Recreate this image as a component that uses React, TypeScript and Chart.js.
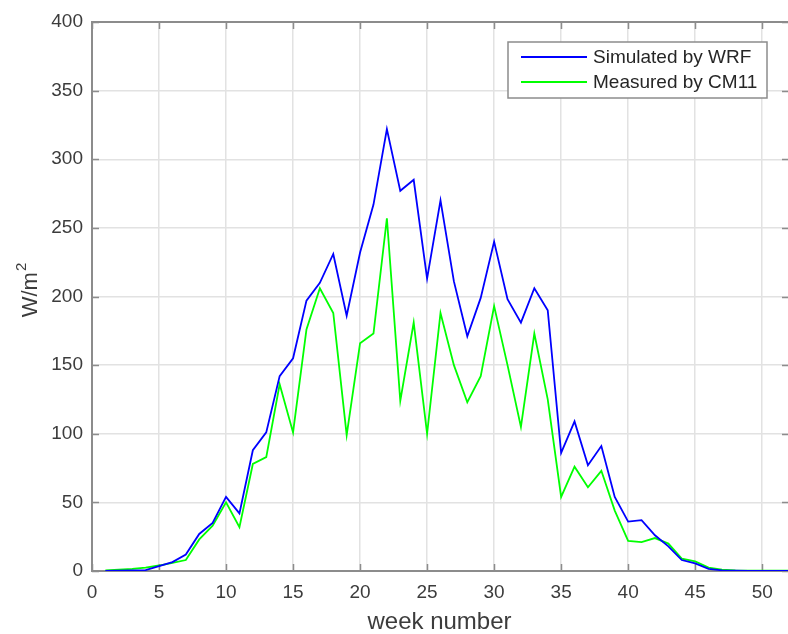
import React, { useEffect, useRef } from "react";
import { Chart, registerables } from "chart.js";

Chart.register(...registerables);

// Week numbers 1..52
const weeks = [
  1, 2, 3, 4, 5, 6, 7, 8, 9, 10, 11, 12, 13, 14, 15, 16, 17, 18, 19, 20, 21, 22, 23, 24, 25, 26,
  27, 28, 29, 30, 31, 32, 33, 34, 35, 36, 37, 38, 39, 40, 41, 42, 43, 44, 45, 46, 47, 48, 49, 50, 51, 52,
];

// Weekly mean irradiance, W/m^2
const simulatedWRF = [
  0, 0.3, 0.5, 0.7, 3.6, 6.5, 12, 27, 35, 54, 42, 88, 101, 142, 155, 197, 210, 231, 186, 232, 267, 322,
  277, 285, 213, 270, 211, 171, 199, 240, 198, 181, 206, 190, 86, 109, 77, 91, 54, 36, 37, 26, 18, 8,
  5.5, 1.5, 0.5, 0.2, 0, 0, 0, 0,
];

const measuredCM11 = [
  0.5, 1, 1.5, 2.5, 4, 6, 8, 23, 33, 50, 32, 78, 83, 136, 101, 176, 206, 188, 99, 166, 173, 257, 124,
  181, 100, 188, 150, 123, 142, 193, 150, 105, 173, 125, 54, 76, 61, 73, 44, 22, 21, 24, 20, 9, 7, 2.5,
  1, 0.5, 0.3, 0.2, 0.2, 0.2,
];

const seriesLabels = ["Simulated by WRF", "Measured by CM11"];
const seriesColors = ["#0000ff", "#00ff00"];

const xTitle = "week number";
const FONT = "'Liberation Sans', Arial, Helvetica, sans-serif";
const AXIS_COLOR = "#8c8c8c";
const TEXT_COLOR = "#3c3c3c";

const framePlugin = {
  id: "matlabFrame",
  beforeDraw(chart: any) {
    const { ctx, width, height } = chart;
    ctx.save();
    ctx.fillStyle = "#ffffff";
    ctx.fillRect(0, 0, width, height);
    ctx.restore();
  },
  beforeDatasetsDraw(chart: any) {
    const { ctx, chartArea: a, scales } = chart;
    const x = scales.x;
    const y = scales.y;
    ctx.save();
    ctx.strokeStyle = AXIS_COLOR;
    ctx.lineWidth = 2;
    ctx.strokeRect(a.left, a.top, a.right - a.left, a.bottom - a.top);
    // inward tick marks on all four sides
    const len = 7;
    ctx.beginPath();
    x.ticks.forEach((t: any) => {
      const px = Math.round(x.getPixelForValue(t.value)) + 0.5;
      ctx.moveTo(px, a.bottom);
      ctx.lineTo(px, a.bottom - len);
      ctx.moveTo(px, a.top);
      ctx.lineTo(px, a.top + len);
    });
    y.ticks.forEach((t: any) => {
      const py = Math.round(y.getPixelForValue(t.value)) + 0.5;
      ctx.moveTo(a.left, py);
      ctx.lineTo(a.left + len, py);
      ctx.moveTo(a.right, py);
      ctx.lineTo(a.right - len, py);
    });
    ctx.lineWidth = 1.5;
    ctx.stroke();
    ctx.restore();
  },
  afterDraw(chart: any) {
    const { ctx, chartArea: a } = chart;
    ctx.save();

    // legend box
    const lx = 508, ly = 42, lw = 259, lh = 56;
    ctx.fillStyle = "#ffffff";
    ctx.fillRect(lx, ly, lw, lh);
    ctx.strokeStyle = AXIS_COLOR;
    ctx.lineWidth = 1.5;
    ctx.strokeRect(lx, ly, lw, lh);
    ctx.font = `19px ${FONT}`;
    ctx.textBaseline = "middle";
    ctx.textAlign = "left";
    seriesLabels.forEach((label, i) => {
      const rowY = ly + 15 + i * 25;
      ctx.strokeStyle = seriesColors[i];
      ctx.lineWidth = 1.8;
      ctx.beginPath();
      ctx.moveTo(lx + 13, rowY);
      ctx.lineTo(lx + 79, rowY);
      ctx.stroke();
      ctx.fillStyle = "#262626";
      ctx.fillText(label, lx + 85, rowY + 1);
    });

    // x axis title
    ctx.fillStyle = TEXT_COLOR;
    ctx.font = `24px ${FONT}`;
    ctx.textAlign = "center";
    ctx.textBaseline = "alphabetic";
    ctx.fillText(xTitle, (a.left + a.right) / 2 - 1, 629);

    // y axis title: W/m with superscript 2, rotated
    const main = "W/m";
    const sup = "2";
    ctx.font = `22px ${FONT}`;
    const wMain = ctx.measureText(main).width;
    ctx.font = `15px ${FONT}`;
    const wSup = ctx.measureText(sup).width;
    const total = wMain + wSup;
    ctx.translate(37, (a.top + a.bottom) / 2 - 6);
    ctx.rotate(-Math.PI / 2);
    ctx.textAlign = "left";
    ctx.font = `22px ${FONT}`;
    ctx.fillText(main, -total / 2, 0);
    ctx.font = `15px ${FONT}`;
    ctx.fillText(sup, -total / 2 + wMain + 1, -11);
    ctx.restore();
  },
};

export default function App() {
  const canvasRef = useRef<HTMLCanvasElement | null>(null);

  useEffect(() => {
    const canvas = canvasRef.current;
    if (!canvas) return;
    const tickFont = { family: FONT, size: 19 };
    const chart = new Chart(canvas, {
      type: "line",
      data: {
        datasets: [
          {
            label: seriesLabels[0],
            data: weeks.map((w, i) => ({ x: w, y: simulatedWRF[i] })),
            borderColor: seriesColors[0],
            borderWidth: 1.8,
            pointRadius: 0,
            tension: 0,
            fill: false,
          },
          {
            label: seriesLabels[1],
            data: weeks.map((w, i) => ({ x: w, y: measuredCM11[i] })),
            borderColor: seriesColors[1],
            borderWidth: 1.8,
            pointRadius: 0,
            tension: 0,
            fill: false,
          },
        ],
      },
      options: {
        responsive: false,
        animation: false,
        devicePixelRatio: 1,
        layout: { padding: { top: 22, left: 0, right: 0, bottom: 0 } },
        plugins: {
          legend: { display: false },
          tooltip: { enabled: false },
        },
        scales: {
          x: {
            type: "linear",
            min: 0,
            max: 52,
            afterFit: (s: any) => {
              s.height = 63;
            },
            ticks: {
              stepSize: 5,
              includeBounds: false,
              maxRotation: 0,
              autoSkip: false,
              padding: 10,
              color: TEXT_COLOR,
              font: tickFont,
            },
            grid: { color: "#e2e2e2", lineWidth: 1.5, drawTicks: false },
            border: { display: false },
          },
          y: {
            type: "linear",
            min: 0,
            max: 400,
            afterFit: (s: any) => {
              s.width = 92;
            },
            ticks: {
              stepSize: 50,
              padding: 9,
              color: TEXT_COLOR,
              font: tickFont,
            },
            grid: { color: "#e2e2e2", lineWidth: 1.5, drawTicks: false },
            border: { display: false },
          },
        },
      },
      plugins: [framePlugin],
    });
    return () => chart.destroy();
  }, []);

  return (
    <div
      style={{
        position: "fixed",
        left: 0,
        top: 0,
        width: 788,
        height: 634,
        overflow: "hidden",
        background: "#ffffff",
      }}
    >
      <canvas ref={canvasRef} width={789} height={634} style={{ width: 789, height: 634, display: "block" }} />
    </div>
  );
}
